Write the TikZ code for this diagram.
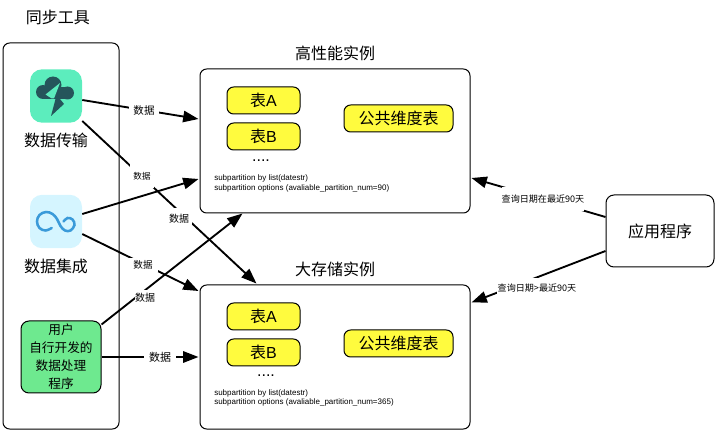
\documentclass[tikz,border=0pt]{standalone}
\usepackage{fontspec}
\setmainfont{Noto Sans CJK SC}
\newfontfamily\latinfont{Liberation Sans}
\usetikzlibrary{arrows.meta,calc}
\definecolor{xferFill}{HTML}{5CEDBD}
\definecolor{xferDark}{HTML}{25555B}
\definecolor{integFill}{HTML}{D5F5FF}
\definecolor{integDraw}{HTML}{3A9AD9}
\definecolor{kitFill}{HTML}{6EE98F}
\definecolor{tblFill}{HTML}{FFFB3E}
\tikzset{
  box/.style   ={draw, rounded corners=5pt, align=center, inner sep=0pt, line width=0.75pt},
  inst/.style  ={box, minimum width=202.5pt, minimum height=108pt},
  tbl/.style   ={box, fill=tblFill, minimum width=54.75pt, minimum height=20.25pt, font=\fontsize{12}{14}\selectfont},
  dim/.style   ={tbl, minimum width=81.75pt},
  icon/.style  ={rounded corners=9pt, inner sep=0pt, minimum width=39pt, minimum height=40pt},
  title/.style ={inner sep=0pt, font=\fontsize{12}{14}\selectfont},
  sub/.style   ={inner sep=0pt, anchor=west, align=left, font=\fontsize{6}{7.3}\latinfont},
  lbl/.style   ={fill=white, inner sep=0pt, font=\fontsize{#1}{#1}\selectfont},
  arr/.style   ={-{Triangle[length=11.5pt,width=8.5pt]}, line width=1.4pt},
}
\begin{document}
\begin{tikzpicture}[x=0.75pt,y=-0.75pt]
  \useasboundingbox (0,0) rectangle (715,431);

  % sync tools column
  \node[title] (toolT) at (58,17) {同步工具};
  \node[box, minimum width=87pt, minimum height=289.5pt] (tool) at (61,236) {};

  % transfer icon
  \node[icon, fill=xferFill] (xfer) at (56,96) {};
  \fill[xferDark] (43,92) circle (7);
  \fill[xferDark] (53,85) circle (8.5);
  \fill[xferDark] (67.5,93) circle (6.5);
  \fill[xferDark] (43,87) rectangle (67,99);
  \fill[xferDark] (59.5,84) -- (51,116) -- (64,104) -- (60,99) -- cycle;
  \fill[xferFill] (60,83) -- (45.5,94.5) -- (51.7,98.5) -- (54,98.5) -- cycle;
  \node[title] (xferT) at (56,140) {数据传输};

  % integration icon
  \node[icon, fill=integFill] (integ) at (56,221.5) {};
  \draw[integDraw, line width=1.9pt, line cap=round] plot[smooth, tension=.65] coordinates {
    (51.7,228) (45.5,230.5) (39.5,228) (37,221.5) (39.5,215) (46,212) (52.5,214) (57,219)
    (60.5,226) (65,230.5) (70.5,230.5) (74.5,225) (72.5,219.5) (67.5,218) (63.5,221.5)};
  \node[title] (integT) at (56,266) {数据集成};

  % custom programs
  \node[box, fill=kitFill, rounded corners=6pt, minimum width=60pt, minimum height=54pt,
        font=\fontsize{9.5}{13.5}\selectfont] (kit) at (61,357) {用户\\自行开发的\\数据处理\\程序};

  % hot instance
  \node[title] (hotT) at (335,53) {高性能实例};
  \node[inst] (hot) at (335,141) {};
  \node[tbl] (hotA) at (263.5,100.5) {表{\latinfont A}};
  \node[tbl] (hotB) at (263.5,136.5) {表{\latinfont B}};
  \node[inner sep=0pt, font=\fontsize{12}{14}\latinfont] (hotD) at (261,160.5) {....};
  \node[dim] (hotDim) at (398.5,118.5) {公共维度表};
  \node[sub] (hotS) at (214,183.5) {subpartition by list(datestr)\\subpartition options (avaliable\_partition\_num=90)};

  % big instance
  \node[title] (bigT) at (335,269) {大存储实例};
  \node[inst] (big) at (335,357) {};
  \node[tbl] (bigA) at (263.5,316.5) {表{\latinfont A}};
  \node[tbl] (bigB) at (263.5,352.5) {表{\latinfont B}};
  \node[inner sep=0pt, font=\fontsize{12}{14}\latinfont] (bigD) at (266,375.5) {....};
  \node[dim] (bigDim) at (398.5,343.5) {公共维度表};
  \node[sub] (bigS) at (214,398) {subpartition by list(datestr)\\subpartition options (avaliable\_partition\_num=365)};

  % application
  \node[box, minimum width=81pt, minimum height=54pt, rounded corners=6pt,
        font=\fontsize{12}{14}\selectfont] (app) at (660,231) {应用程序};

  % connectors
  \draw[arr] ($(xfer.east)+(0,4)$) -- ($(hot.west)+(-1,-22)$);
  \draw[arr] ($(xfer.east)+(0,25)$) -- ($(big.north west)+(57,-1)$);
  \draw[arr] ($(integ.east)+(0,-7.5)$) -- ($(hot.west)+(-1,38)$);
  \draw[arr] ($(integ.east)+(0,12.5)$) -- ($(big.west)+(-1,-66)$);
  \draw[arr] ($(kit.north east)+(0,4)$) -- ($(hot.south west)+(43,0)$);
  \draw[arr] (kit.east) -- ($(big.west)+(-1,0)$);
  \draw[arr] ($(app.west)+(0,-14)$) -- ($(hot.east)+(1,37)$);
  \draw[arr] ($(app.west)+(0,20)$) -- ($(big.north east)+(1,18)$);

  % connector labels
  \node[lbl=7.9, minimum width=23pt] (lblA) at (144,111) {数据};
  \node[lbl=6.4, minimum width=18pt, minimum height=18pt] (lblB) at (142,176) {数据};
  \node[lbl=7.5, minimum width=20pt, minimum height=16pt] (lblC) at (179,219) {数据};
  \node[lbl=7.2, minimum width=22pt, minimum height=10pt] (lblD) at (143,265) {数据};
  \node[lbl=7.5, minimum height=12pt] (lblE) at (145,298) {数据};
  \node[lbl=8.25, minimum width=24pt] (lblF) at (160,357) {数据};
  \node[lbl=6.8, minimum width=61pt, minimum height=18pt] (lblG) at (543,199.5) {查询日期在最近90天};
  \node[lbl=6.8, minimum width=60pt, minimum height=15pt] (lblH) at (537,288) {查询日期>最近90天};
\end{tikzpicture}
\end{document}
